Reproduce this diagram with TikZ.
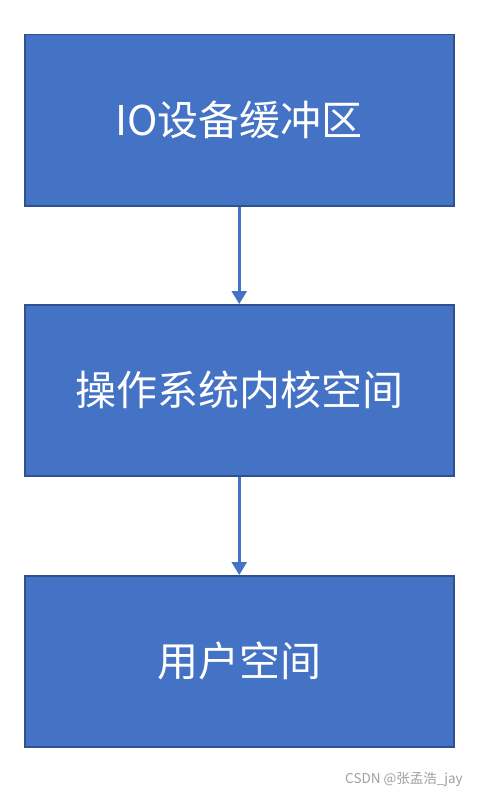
\documentclass[tikz,border=0pt]{standalone}
\usepackage{fontspec}
\setmainfont{Noto Sans CJK SC}
\usetikzlibrary{arrows.meta}
\definecolor{boxfill}{HTML}{4472C4}
\definecolor{boxline}{HTML}{2F528F}
\definecolor{arrowc}{HTML}{4472C4}
\definecolor{wm}{HTML}{A0A0A0}
\begin{document}
\begin{tikzpicture}[x=1pt,y=-1pt,
  blk/.style={draw=boxline,fill=boxfill,line width=1.5pt,minimum width=429pt,minimum height=171pt,inner sep=0pt,text=white,font=\fontsize{41}{48}\selectfont,anchor=north west},
  conn/.style={draw=arrowc,line width=2.6pt,-{Triangle[length=13pt,width=15pt]}}]
\useasboundingbox (0,0) rectangle (477,797);
\fill[white] (0,0) rectangle (477,797);
\node[blk] (a) at (24,34) {IO设备缓冲区};
\node[blk] (b) at (24,304) {操作系统内核空间};
\node[blk] (c) at (24,575) {用户空间};
\draw[conn] (a.south) -- (b.north);
\draw[conn] (b.south) -- (c.north);
\node[text=wm,font=\fontsize{13.5}{16}\selectfont,inner sep=0pt] (w) at (404,779) {CSDN @张孟浩\_jay};
\end{tikzpicture}
\end{document}
